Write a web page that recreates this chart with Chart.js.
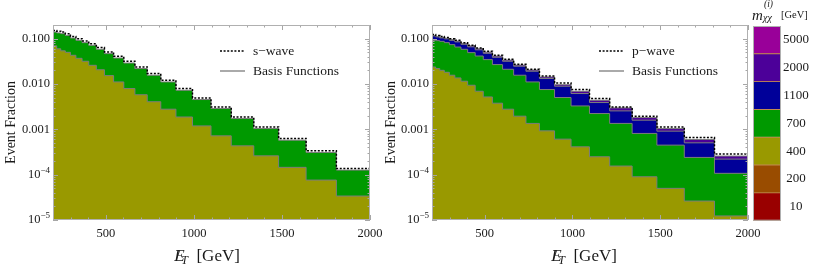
<!DOCTYPE html>
<html><head><meta charset="utf-8">
<script src="https://cdn.jsdelivr.net/npm/chart.js@4.4.0/dist/chart.umd.min.js"></script>
<style>
html,body{margin:0;padding:0;background:#fff;}
body{width:814px;height:269px;position:relative;overflow:hidden;font-family:"Liberation Serif",serif;color:#1a1a1a;}
canvas{position:absolute;top:0;}
.xt{position:absolute;top:246px;font-size:17px;line-height:20px;white-space:nowrap;transform:translateX(-50%);}
.xt sub{font-size:12px;vertical-align:-3px;}
.xt .sl{display:inline-block;margin-left:-9px;margin-right:1px;font-style:normal;}
.cb{position:absolute;white-space:nowrap;font-style:italic;}
</style></head><body>
<canvas id="left" width="395" height="269" style="left:0px;width:395px;height:269px"></canvas>
<canvas id="right" width="400" height="269" style="left:380px;width:400px;height:269px"></canvas>
<canvas id="cbar" width="66" height="269" style="left:748px;width:66px;height:269px"></canvas>
<div class="xt" style="left:207px"><i>E</i><span class="sl">/</span><sub><i>T</i></sub>&nbsp; [GeV]</div>
<div class="xt" style="left:584px"><i>E</i><span class="sl">/</span><sub><i>T</i></sub>&nbsp; [GeV]</div>
<div class="cb" style="left:752px;top:8px;font-size:15px;line-height:15px">m</div>
<div class="cb" style="left:764px;top:0px;font-size:9.5px;line-height:9.5px">(i)</div>
<div class="cb" style="left:763px;top:12.6px;font-size:10px;line-height:10px">χχ</div>
<div class="cb" style="left:781px;top:10px;font-size:10.5px;line-height:10.5px;font-style:normal">[GeV]</div>
<script>
// ---- data ----
const binEdges = [200, 221, 244, 270, 299, 330, 365, 403, 446, 492, 544, 602, 665, 735, 812, 898, 992, 1097, 1212, 1340, 1481, 1637, 1809, 2000];

// s-wave panel: cumulative stacked basis functions (400, 400+700) and s-wave total
const sWaveCum400 = [0.0694, 0.0597, 0.0539, 0.0499, 0.0429, 0.0368, 0.0317, 0.0258, 0.0206, 0.0153, 0.0111, 0.00793, 0.00579, 0.00406, 0.00278, 0.00187, 0.00119, 0.000718, 0.000432, 0.000260, 0.000145, 0.0000760, 0.0000338];
const sWaveCum700 = [0.140, 0.134, 0.129, 0.118, 0.103, 0.0918, 0.0817, 0.0712, 0.0582, 0.0468, 0.0374, 0.0290, 0.0219, 0.0156, 0.0111, 0.00728, 0.00454, 0.00288, 0.00173, 0.00104, 0.000577, 0.000309, 0.000126];
const sWaveTotal = [0.152, 0.146, 0.140, 0.128, 0.112, 0.100, 0.089, 0.0775, 0.0634, 0.0510, 0.0407, 0.0316, 0.0238, 0.0170, 0.0121, 0.00793, 0.00493, 0.00312, 0.00188, 0.00113, 0.000627, 0.000336, 0.000137];

// p-wave panel: cumulative stacked basis functions (400, +700, +1100, +2000) and p-wave total
const pWaveCum400 = [0.0237, 0.0219, 0.0200, 0.0181, 0.0156, 0.0136, 0.0115, 0.00938, 0.00692, 0.00518, 0.00377, 0.00278, 0.00195, 0.00135, 0.000925, 0.000607, 0.000411, 0.000248, 0.000155, 0.0000898, 0.0000499, 0.0000262, 0.0000123];
const pWaveCum700 = [0.0918, 0.0904, 0.0872, 0.0817, 0.0738, 0.0653, 0.0582, 0.0492, 0.0414, 0.0345, 0.0268, 0.0211, 0.0156, 0.0111, 0.00754, 0.00503, 0.00328, 0.00223, 0.00135, 0.000811, 0.000448, 0.000240, 0.000107];
const pWaveCum1100 = [0.115, 0.1095, 0.104, 0.0990, 0.0918, 0.0850, 0.0749, 0.0660, 0.0567, 0.0475, 0.0388, 0.0317, 0.0246, 0.0191, 0.0132, 0.00892, 0.00616, 0.00390, 0.00255, 0.00159, 0.000911, 0.000504, 0.000220];
const pWaveCum2000 = [0.118, 0.112, 0.107, 0.1015, 0.0951, 0.0885, 0.0788, 0.0694, 0.0597, 0.0504, 0.0412, 0.0336, 0.0261, 0.0203, 0.0143, 0.00963, 0.00692, 0.00438, 0.00297, 0.00182, 0.00104, 0.000598, 0.000257];
const pWaveTotal = [0.124, 0.117, 0.111, 0.106, 0.100, 0.0918, 0.0817, 0.0712, 0.0624, 0.0526, 0.0429, 0.0350, 0.0272, 0.0211, 0.0150, 0.0105, 0.00754, 0.00478, 0.00312, 0.00195, 0.00113, 0.00066, 0.000284];

const xTickValues = [500, 1000, 1500, 2000];
const xTickLabels = ['500', '1000', '1500', '2000'];
const yTickValues = [1e-5, 1e-4, 1e-3, 1e-2, 1e-1];
const yTickLabels = ['10', '10', '0.001', '0.010', '0.100'];
const yTickPowers = ['−5', '−4', '', '', ''];
const massLabels = ['10', '200', '400', '700', '1100', '2000', '5000'];

// ---- styles ----
const massColors = ['#990000', '#994c00', '#999900', '#009900', '#000099', '#4c0099', '#990099'];
const FONT = '"Liberation Serif", serif';
const outline = '#7c7c7c';
const TICK_SIZE = 12.5;

function steps(vals) {
  const pts = vals.map((v, i) => ({x: binEdges[i], y: v}));
  pts.push({x: binEdges[binEdges.length - 1], y: vals[vals.length - 1]});
  return pts;
}
function layer(vals, color, order) {
  return {data: steps(vals), stepped: 'before', fill: 'start', backgroundColor: color,
    borderColor: outline, borderWidth: 1, pointRadius: 0, order: order};
}
function total(vals) {
  return {data: steps(vals), stepped: 'before', fill: false, borderColor: '#000',
    borderWidth: 1.5, borderDash: [2, 1.6], pointRadius: 0, order: 0};
}

const framePlugin = {
  id: 'frame',
  afterDraw(chart, args, opts) {
    const {ctx, chartArea: a, scales: {x, y}} = chart;
    ctx.save();
    ctx.strokeStyle = '#a6a6a6';
    ctx.lineWidth = 1;
    ctx.beginPath();
    for (let v = 200; v <= 2000; v += 100) {
      const px = Math.round(x.getPixelForValue(v)) + 0.5;
      const L = v % 500 === 0 ? 5 : 2.5;
      ctx.moveTo(px, a.bottom); ctx.lineTo(px, a.bottom - L);
      ctx.moveTo(px, a.top); ctx.lineTo(px, a.top + L);
    }
    for (let e = -5; e <= -1; e++) {
      for (let m = 1; m <= 9; m++) {
        const v = m * Math.pow(10, e);
        if (v > y.max) break;
        const py = Math.round(y.getPixelForValue(v)) + 0.5;
        const L = m === 1 ? 5 : 2.5;
        ctx.moveTo(a.left, py); ctx.lineTo(a.left + L, py);
        ctx.moveTo(a.right, py); ctx.lineTo(a.right - L, py);
      }
    }
    ctx.stroke();
    ctx.strokeStyle = '#b0b0b0';
    ctx.strokeRect(a.left + 0.5, a.top + 0.5, a.right - a.left - 1, a.bottom - a.top - 1);
    // exponent tick labels (10^-n)
    ctx.fillStyle = '#1a1a1a';
    ctx.textBaseline = 'middle';
    yTickValues.forEach((v, i) => {
      if (!yTickPowers[i]) return;
      const py = y.getPixelForValue(v);
      ctx.font = '9px ' + FONT;
      const ws = ctx.measureText(yTickPowers[i]).width;
      const xr = a.left - 3;
      ctx.textAlign = 'left';
      ctx.fillText(yTickPowers[i], xr - ws, py - 4.5);
      ctx.font = TICK_SIZE + 'px ' + FONT;
      ctx.textAlign = 'right';
      ctx.fillText(yTickLabels[i], xr - ws, py);
    });
    // legend
    const lx = a.left + 167, tx = a.left + 200;
    const y1 = a.top + 26, y2 = a.top + 46;
    ctx.lineWidth = 1.3;
    ctx.strokeStyle = '#000';
    ctx.setLineDash([2, 1.6]);
    ctx.beginPath(); ctx.moveTo(lx, y1); ctx.lineTo(lx + 25, y1); ctx.stroke();
    ctx.setLineDash([]);
    ctx.strokeStyle = '#7c7c7c';
    ctx.beginPath(); ctx.moveTo(lx, y2); ctx.lineTo(lx + 25, y2); ctx.stroke();
    ctx.font = '13.5px ' + FONT;
    ctx.textAlign = 'left';
    ctx.fillText(opts.label, tx, y1);
    ctx.fillText('Basis Functions', tx, y2);
    ctx.restore();
  }
};

function panelOptions(label, yWidth, padRight) {
  return {
    responsive: false, animation: false, devicePixelRatio: 1,
    layout: {padding: {left: 0, right: padRight, top: 25, bottom: 0}},
    plugins: {legend: {display: false}, tooltip: {enabled: false}, frame: {label: label}},
    scales: {
      x: {type: 'linear', min: 200, max: 2000,
        afterBuildTicks: s => { s.ticks = xTickValues.map(v => ({value: v})); },
        afterFit: s => { s.height = 49; s.paddingLeft = 0; s.paddingRight = 0; },
        grid: {display: false, drawTicks: false}, border: {display: false},
        ticks: {font: {family: FONT, size: TICK_SIZE}, color: '#1a1a1a', padding: 6, maxRotation: 0, autoSkip: false,
          callback: (v, i) => xTickLabels[i]}
      },
      y: {type: 'logarithmic', min: 1e-5, max: 0.2,
        afterBuildTicks: s => { s.ticks = yTickValues.map(v => ({value: v})); },
        afterFit: s => { s.width = yWidth; s.paddingTop = 0; s.paddingBottom = 0; },
        grid: {display: false, drawTicks: false}, border: {display: false},
        ticks: {font: {family: FONT, size: TICK_SIZE}, color: '#1a1a1a', padding: 3, autoSkip: false,
          callback: (v, i) => yTickPowers[i] ? '' : yTickLabels[i]},
        title: {display: true, text: 'Event Fraction', font: {family: FONT, size: 14}, color: '#1a1a1a', padding: {top: 3, bottom: 4}}
      }
    }
  };
}

new Chart(document.getElementById('left'), {
  type: 'line',
  data: {datasets: [
    total(sWaveTotal),
    layer(sWaveCum400, massColors[2], 1),
    layer(sWaveCum700, massColors[3], 2)
  ]},
  options: panelOptions('s−wave', 53, 25),
  plugins: [framePlugin]
});

new Chart(document.getElementById('right'), {
  type: 'line',
  data: {datasets: [
    total(pWaveTotal),
    layer(pWaveCum400, massColors[2], 1),
    layer(pWaveCum700, massColors[3], 2),
    layer(pWaveCum1100, massColors[4], 3),
    layer(pWaveCum2000, massColors[5], 4)
  ]},
  options: panelOptions('p−wave', 52, 32),
  plugins: [framePlugin]
});

const cbarOutline = {
  id: 'cbarOutline',
  afterDraw(chart) {
    const {ctx, chartArea: a} = chart;
    ctx.save();
    ctx.strokeStyle = '#b0b0b0';
    ctx.lineWidth = 1;
    ctx.strokeRect(a.left + 0.5, a.top + 0.5, a.right - a.left - 1, a.bottom - a.top - 1);
    ctx.restore();
  }
};

new Chart(document.getElementById('cbar'), {
  type: 'bar',
  data: {labels: ['m'], datasets: massLabels.map((m, i) => ({
    data: [[i, i + 1]], backgroundColor: massColors[i], borderColor: '#c08a50',
    borderWidth: 0.8, borderSkipped: false, grouped: false,
    barPercentage: 1, categoryPercentage: 1
  }))},
  options: {
    responsive: false, animation: false, devicePixelRatio: 1,
    layout: {padding: {left: 5, right: 0, top: 26, bottom: 48.3}},
    plugins: {legend: {display: false}, tooltip: {enabled: false}},
    scales: {
      x: {display: false},
      y: {position: 'right', min: 0, max: 7,
        afterBuildTicks: s => { s.ticks = massLabels.map((m, i) => ({value: i + 0.5})); },
        afterFit: s => { s.width = 33; },
        grid: {display: false, drawTicks: false}, border: {display: false},
        ticks: {font: {family: FONT, size: 13}, color: '#1a1a1a', padding: 2, crossAlign: 'center', autoSkip: false,
          callback: (v, i) => massLabels[i]}
      }
    }
  },
  plugins: [cbarOutline]
});
</script>
</body></html>
